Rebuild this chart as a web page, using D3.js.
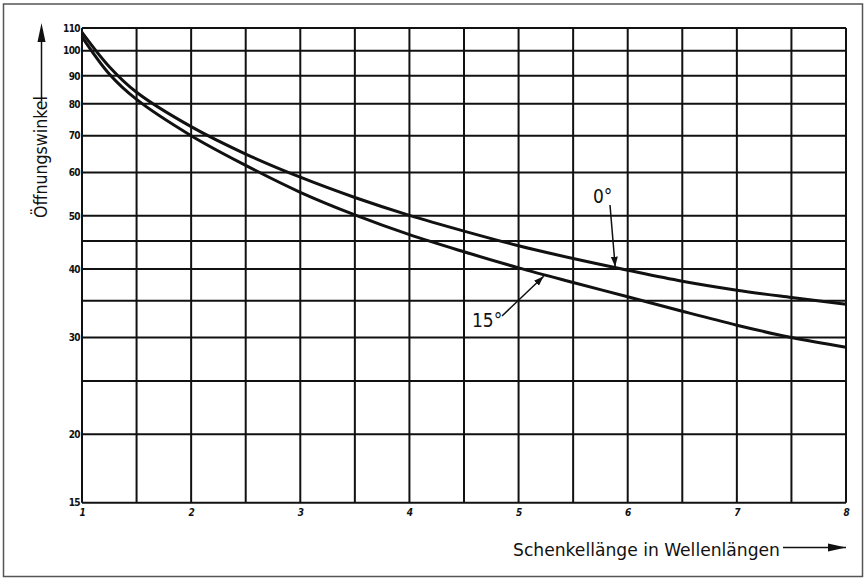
<!DOCTYPE html>
<html>
<head>
<meta charset="utf-8">
<script src="https://cdn.jsdelivr.net/npm/d3@7"></script>
<style>
  html, body { margin: 0; padding: 0; background: #fff; }
  svg { display: block; }
</style>
</head>
<body>
<svg id="chart" width="865" height="578"></svg>
<script>
// ---- data ----
const xValues   = [1, 1.25, 1.5, 2, 2.5, 3, 3.5, 4, 4.5, 5, 5.5, 6, 6.5, 7, 7.5, 8];
const series0   = [108, 93.5, 84, 72.7, 64.8, 58.8, 54, 50.1, 46.9, 44.1, 41.8, 39.8, 38, 36.6, 35.5, 34.5];   // 0°
const series15  = [106, 90.7, 81.5, 70, 61.8, 55.2, 50.2, 46.2, 43, 40.2, 37.8, 35.6, 33.5, 31.6, 30, 28.8]; // 15°
const xGrid     = [1, 1.5, 2, 2.5, 3, 3.5, 4, 4.5, 5, 5.5, 6, 6.5, 7, 7.5, 8];
const xTickLabels = [1, 2, 3, 4, 5, 6, 7, 8];
const yGrid     = [15, 20, 25, 30, 35, 40, 45, 50, 60, 70, 80, 90, 100, 110];
const yTickLabels = [15, 20, 30, 40, 50, 60, 70, 80, 90, 100, 110];
const xTitle = "Schenkellänge in Wellenlängen";
const yTitle = "Öffnungswinkel";
const label0 = "0°";
const label15 = "15°";

(function () {
const svg = d3.select("#chart");
const pL = 82, pR = 846, pT = 28, pB = 502.7;

const x = d3.scaleLinear().domain([1, 8]).range([pL, pR]);
const y = d3.scaleLog().domain([15, 110]).range([pB, pT]);

const font = "'DejaVu Sans Condensed', 'Liberation Sans Narrow', sans-serif";

// outer frame
svg.append("rect").attr("x", 3.5).attr("y", 4).attr("width", 859).attr("height", 572.5)
  .attr("fill", "none").attr("stroke", "#555").attr("stroke-width", 1.5);

// grid
const g = svg.append("g");
g.selectAll("line.v").data(xGrid).join("line").attr("class", "v")
  .attr("x1", d => x(d)).attr("x2", d => x(d))
  .attr("y1", pT).attr("y2", pB)
  .attr("stroke", "#111").attr("stroke-width", 2);
g.selectAll("line.h").data(yGrid).join("line").attr("class", "h")
  .attr("x1", pL).attr("x2", pR)
  .attr("y1", d => y(d)).attr("y2", d => y(d))
  .attr("stroke", "#111").attr("stroke-width", 2);

// axes (labels only)
const yAxis = d3.axisLeft(y).tickValues(yTickLabels).tickSize(0).tickPadding(2).tickFormat(d3.format("d"));
const ya = svg.append("g").attr("transform", `translate(${pL},0)`).call(yAxis);
ya.select(".domain").remove();
ya.selectAll("text").attr("font-family", font).attr("font-size", 10).attr("font-weight", "bold")
  .attr("fill", "#111").attr("letter-spacing", -0.6);

const xAxis = d3.axisBottom(x).tickValues(xTickLabels).tickSize(0).tickPadding(6).tickFormat(d3.format("d"));
const xa = svg.append("g").attr("transform", `translate(0,${pB})`).call(xAxis);
xa.select(".domain").remove();
xa.selectAll("text").attr("font-family", font).attr("font-size", 10).attr("font-weight", "bold")
  .attr("font-style", "italic").attr("fill", "#111");

// curves
const line = d3.line().x(d => x(d[0])).y(d => y(d[1])).curve(d3.curveCatmullRom.alpha(0.5));
[series0, series15].forEach(s => {
  svg.append("path").datum(xValues.map((v, i) => [v, s[i]]))
    .attr("d", line).attr("fill", "none").attr("stroke", "#111").attr("stroke-width", 3);
});

// arrow marker
svg.append("defs").append("marker").attr("id", "ah")
  .attr("viewBox", "0 0 10 10").attr("refX", 10).attr("refY", 5)
  .attr("markerWidth", 10).attr("markerHeight", 10).attr("markerUnits", "userSpaceOnUse")
  .attr("orient", "auto")
  .append("path").attr("d", "M0,1.5 L10,5 L0,8.5 Z").attr("fill", "#111");

// annotation 0°
svg.append("text").attr("x", 593).attr("y", 203).text(label0)
  .attr("font-family", font).attr("font-size", 19).attr("fill", "#111");
svg.append("line").attr("x1", 610).attr("y1", 205).attr("x2", x(5.885)).attr("y2", y(40.4))
  .attr("stroke", "#111").attr("stroke-width", 1.5).attr("marker-end", "url(#ah)");

// annotation 15°
svg.append("text").attr("x", 472).attr("y", 327).text(label15)
  .attr("font-family", font).attr("font-size", 19).attr("fill", "#111");
svg.append("line").attr("x1", 502).attr("y1", 316).attr("x2", x(5.23)).attr("y2", y(38.8))
  .attr("stroke", "#111").attr("stroke-width", 1.5).attr("marker-end", "url(#ah)");

// x title + arrow
svg.append("text").attr("x", 513).attr("y", 556).text(xTitle)
  .attr("font-family", font).attr("font-size", 18).attr("fill", "#111")
  .attr("textLength", 267).attr("lengthAdjust", "spacingAndGlyphs");
svg.append("line").attr("x1", 783).attr("y1", 547.5).attr("x2", 846).attr("y2", 547.5)
  .attr("stroke", "#111").attr("stroke-width", 1.5);
svg.append("path").attr("d", "M846,547.5 L828,543.5 L828,551.5 Z").attr("fill", "#111");

// y title + arrow
svg.append("text").attr("transform", "translate(47,218) rotate(-90)").text(yTitle)
  .attr("font-family", font).attr("font-size", 17).attr("fill", "#111")
  .attr("textLength", 122).attr("lengthAdjust", "spacingAndGlyphs");
svg.append("line").attr("x1", 41.5).attr("y1", 101).attr("x2", 41.5).attr("y2", 35)
  .attr("stroke", "#111").attr("stroke-width", 1.5);
svg.append("path").attr("d", "M41.5,23 L37.5,42 L45.5,42 Z").attr("fill", "#111");
})();
</script>
</body>
</html>
